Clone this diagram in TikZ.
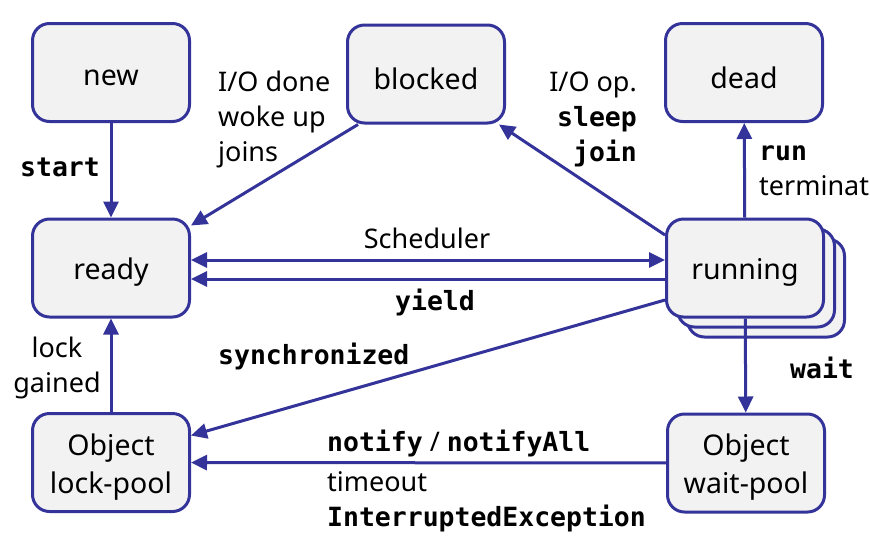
\documentclass[tikz,border=0pt]{standalone}
\usepackage{fontspec}
\setmainfont{Noto Sans}
\setmonofont[Scale=0.98]{DejaVu Sans Mono}
\usetikzlibrary{arrows.meta}
\definecolor{edgeblue}{RGB}{51,51,153}
\definecolor{boxfill}{RGB}{242,242,242}
\newcommand\cd[1]{{\ttfamily\bfseries #1}}
\begin{document}
\begin{tikzpicture}[x=1pt,y=-1pt,
  state/.style={draw=edgeblue, fill=boxfill, line width=3pt, rounded corners=17pt,
    minimum width=157pt, minimum height=98pt, inner sep=0pt},
  statetext/.style={inner sep=0pt, align=center, font=\fontsize{28.5}{38}\selectfont},
  conn/.style={draw=edgeblue, line width=3pt, -{Triangle[length=16pt,width=15pt]}},
  conn2/.style={draw=edgeblue, line width=3pt, {Triangle[length=16pt,width=15pt]}-{Triangle[length=16pt,width=15pt]}},
  lbl/.style={font=\fontsize{27}{35}\selectfont, inner sep=0pt},
  ]
\useasboundingbox (0,0) rectangle (870,558);
% states
\node[state] (new) at (111,72.5) {};
\node[state] (blocked) at (426,74) {};
\node[state] (dead) at (744,72.5) {};
\node[state] (ready) at (111,268) {};
\node[state] (run3) at (766,288) {};
\node[state] (run2) at (756,278) {};
\node[state] (running) at (745,268) {};
\node[state] (lockpool) at (111,462.5) {};
\node[state] (waitpool) at (746,463) {};
\node[statetext] (newtext) at ([yshift=-5pt]new.center) {new};
\node[statetext] (blockedtext) at ([yshift=-5pt]blocked.center) {blocked};
\node[statetext] (deadtext) at ([yshift=-5pt]dead.center) {dead};
\node[statetext] (readytext) at ([yshift=-4pt]ready.center) {ready};
\node[statetext] (runningtext) at ([yshift=-4pt]running.center) {running};
\node[statetext] (lockpooltext) at ([yshift=-4.5pt]lockpool.center) {Object\\lock-pool};
\node[statetext] (waitpooltext) at ([yshift=-4.5pt]waitpool.center) {Object\\wait-pool};
% connectors
\draw[conn] (new) -- (ready);
\draw[conn] ([xshift=12pt]blocked.south west) -- ([yshift=-8pt]ready.north east);
\draw[conn] ([yshift=33pt]running.west) -- ([xshift=-7pt]blocked.south east);
\draw[conn] (running) -- (dead);
\draw[conn2] ([yshift=8pt]ready.east) -- ([yshift=8pt]running.west);
\draw[conn] ([yshift=-11pt]running.west) -- ([yshift=-11pt]ready.east);
\draw[conn] ([yshift=-32pt]running.west) -- ([yshift=27pt]lockpool.east);
\draw[conn] (running) -- (waitpool);
\draw[conn] (waitpool) -- (lockpool);
\draw[conn] (lockpool) -- (ready);
% labels
\node[lbl, anchor=west] (lstart) at (20,167) {\cd{start}};
\node[lbl, anchor=west, align=left] (liodone) at (218,119) {I/O done\\woke up\\joins};
\node[lbl, anchor=east, align=right] (lioop) at (637,119) {I/O op.\\\cd{sleep}\\\cd{join}};
\node[lbl, anchor=west, align=left] (lrun) at (759,171) {\cd{run}\\terminat};
\node[lbl] (lsched) at (427,238) {Scheduler};
\node[lbl] (lyield) at (435,302) {\cd{yield}};
\node[lbl, anchor=west] (lsync) at (218,356) {\cd{synchronized}};
\node[lbl, align=center] (llock) at (57,368) {lock\\gained};
\node[lbl, anchor=west] (lwait) at (790,368) {\cd{wait}};
\node[lbl, anchor=west] (lnotify) at (327,443) {\cd{notify} / \cd{notifyAll}};
\node[lbl, anchor=west, align=left] (ltimeout) at (327,502) {timeout\\\cd{InterruptedException}};
\end{tikzpicture}
\end{document}
